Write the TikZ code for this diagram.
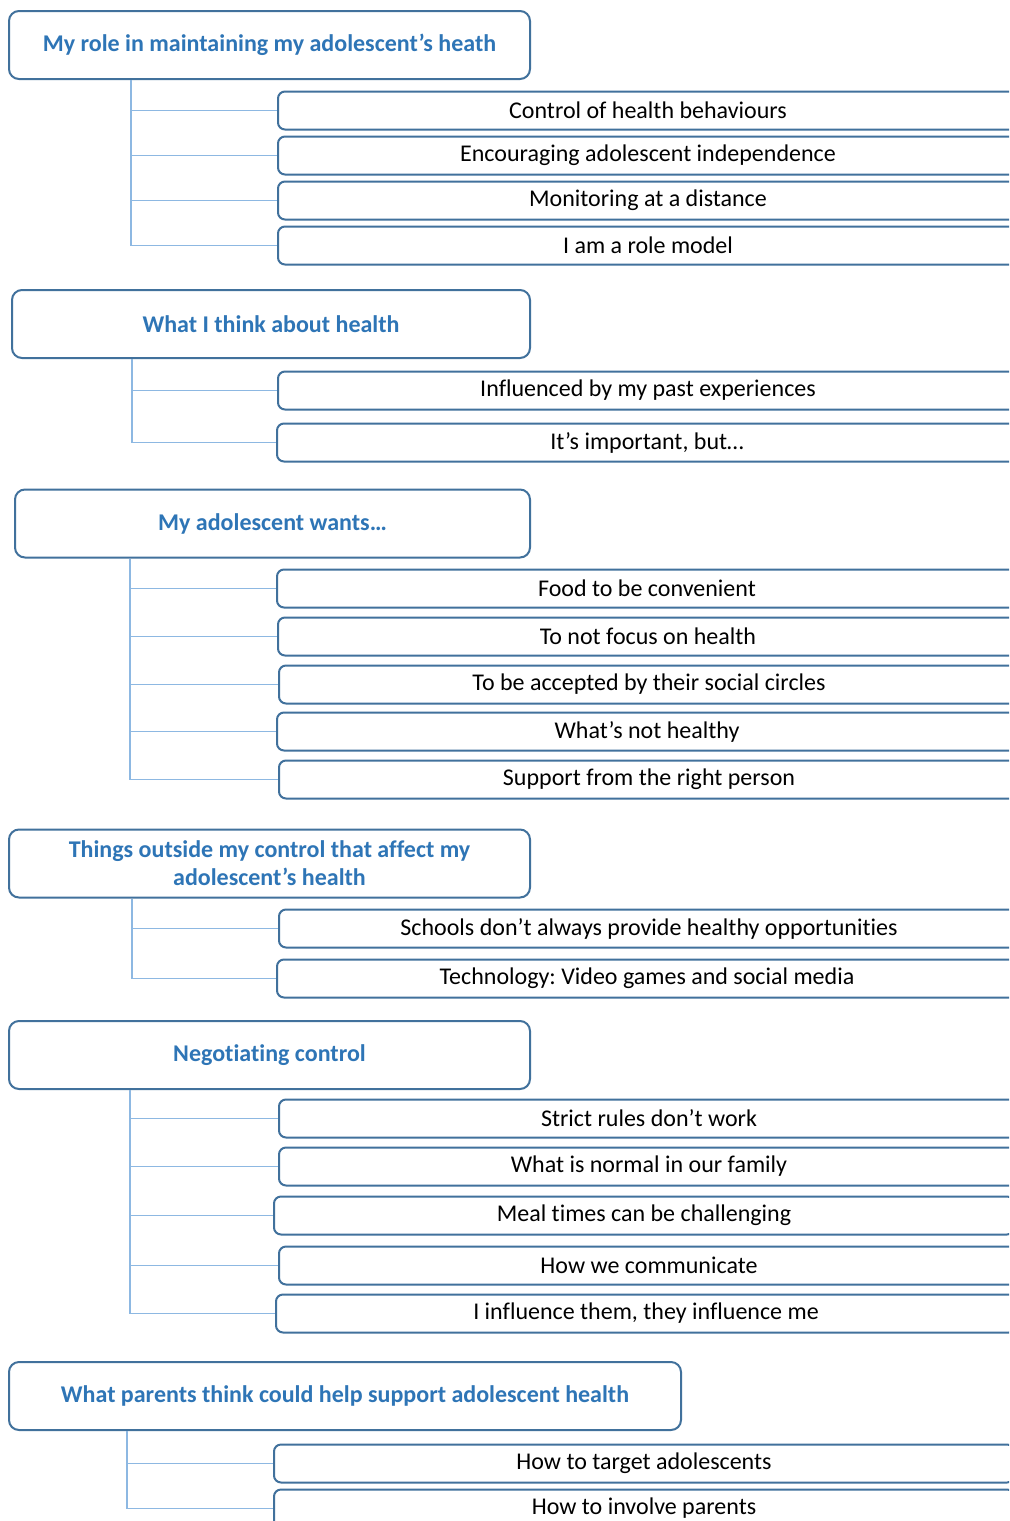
\documentclass[tikz,border=0pt]{standalone}
\usepackage{fontspec}
\setmainfont{Carlito}[Ligatures={NoCommon}]
\frenchspacing
\usetikzlibrary{calc}
\definecolor{hdrtext}{HTML}{2E75B6}
\definecolor{boxline}{HTML}{41719C}
\definecolor{connline}{HTML}{8DB8E2}
\tikzset{
  hdr/.style={draw=boxline, line width=1pt, rounded corners=5pt, fill=white,
    minimum height=34pt, inner sep=0pt, align=center,
    font=\fontsize{12}{14}\selectfont\bfseries, text=hdrtext},
  item/.style={draw=boxline, line width=1pt, rounded corners=3.5pt, fill=white,
    minimum width=370pt, minimum height=19pt, inner sep=0pt, anchor=west,
    font=\fontsize{12}{14}\selectfont, text=black},
  conn/.style={draw=connline, line width=0.6pt}
}
\begin{document}
\begin{tikzpicture}[x=0.5pt,y=-0.5pt]
\useasboundingbox (0,0) rectangle (1009,1521);
\fill[white] (0,0) rectangle (1009,1521);
\clip (0,0) rectangle (1009,1521);

% ---------- Group 1
\node[hdr, minimum width=260.5pt] (h1) at (269.5,45) {My role in maintaining my adolescent’s heath};
\node[item] (a1) at (277,110.5) {Control of health behaviours};
\node[item] (a2) at (277,155.5) {Encouraging adolescent independence};
\node[item] (a3) at (277,200.5) {Monitoring at a distance};
\node[item] (a4) at (277,245.5) {I am a role model};
\coordinate (t1) at (131,0);
\draw[conn] (h1.south -| t1) -- (a4.west -| t1);
\foreach \n in {a1,a2,a3,a4} \draw[conn] (\n.west -| t1) -- (\n.west);

% ---------- Group 2
\node[hdr, minimum width=259pt] (h2) at (271,324) {What I think about health};
\node[item] (b1) at (277,390.5) {Influenced by my past experiences};
\node[item] (b2) at (276,442.5) {It’s important, but…};
\coordinate (t2) at (132,0);
\draw[conn] (h2.south -| t2) -- (b2.west -| t2);
\foreach \n in {b1,b2} \draw[conn] (\n.west -| t2) -- (\n.west);

% ---------- Group 3
\node[hdr, minimum width=257.5pt] (h3) at (272.5,523.5) {My adolescent wants…};
\node[item] (c1) at (276,588.5) {Food to be convenient};
\node[item] (c2) at (277,636.5) {To not focus on health};
\node[item] (c3) at (278,684.5) {To be accepted by their social circles};
\node[item] (c4) at (276,731.5) {What’s not healthy};
\node[item] (c5) at (278,779.5) {Support from the right person};
\coordinate (t3) at (130,0);
\draw[conn] (h3.south -| t3) -- (c5.west -| t3);
\foreach \n in {c1,c2,c3,c4,c5} \draw[conn] (\n.west -| t3) -- (\n.west);

% ---------- Group 4
\node[hdr, minimum width=260.5pt] (h4) at (269.5,863.5) {Things outside my control that affect my\\adolescent’s health};
\node[item] (d1) at (278,928.5) {Schools don’t always provide healthy opportunities};
\node[item] (d2) at (276,978.5) {Technology: Video games and social media};
\coordinate (t4) at (132,0);
\draw[conn] (h4.south -| t4) -- (d2.west -| t4);
\foreach \n in {d1,d2} \draw[conn] (\n.west -| t4) -- (\n.west);

% ---------- Group 5
\node[hdr, minimum width=260.5pt] (h5) at (269.5,1055) {Negotiating control};
\node[item] (e1) at (278,1118.5) {Strict rules don’t work};
\node[item] (e2) at (278,1166.5) {What is normal in our family};
\node[item] (e3) at (273,1215.5) {Meal times can be challenging};
\node[item] (e4) at (278,1265.5) {How we communicate};
\node[item] (e5) at (275,1313.5) {I influence them, they influence me};
\coordinate (t5) at (130,0);
\draw[conn] (h5.south -| t5) -- (e5.west -| t5);
\foreach \n in {e1,e2,e3,e4,e5} \draw[conn] (\n.west -| t5) -- (\n.west);

% ---------- Group 6
\node[hdr, minimum width=336pt] (h6) at (345,1396) {What parents think could help support adolescent health};
\node[item] (f1) at (273,1463.5) {How to target adolescents};
\node[item] (f2) at (273,1508.5) {How to involve parents};
\coordinate (t6) at (127,0);
\draw[conn] (h6.south -| t6) -- (f2.west -| t6);
\foreach \n in {f1,f2} \draw[conn] (\n.west -| t6) -- (\n.west);
\end{tikzpicture}
\end{document}
